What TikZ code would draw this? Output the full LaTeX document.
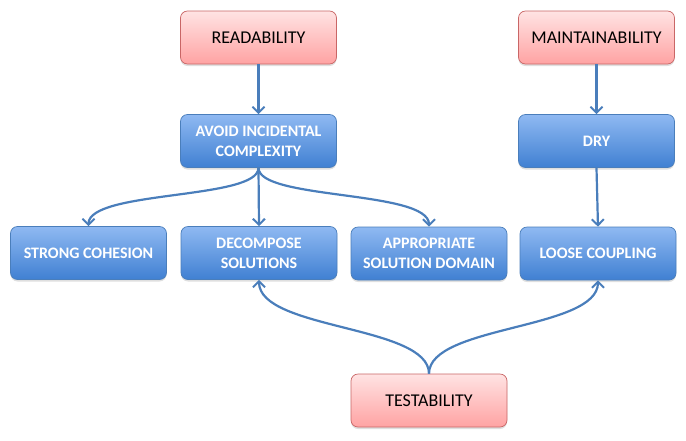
\documentclass[tikz,border=0pt]{standalone}
\usepackage{fontspec}
\setmainfont{Carlito}
\usetikzlibrary{arrows.meta,shadows}
\definecolor{pinkT}{HTML}{FFE3E3}
\definecolor{pinkB}{HTML}{FFA3A3}
\definecolor{pinkD}{HTML}{C96666}
\definecolor{blueT}{HTML}{8FB9F2}
\definecolor{blueB}{HTML}{4080D2}
\definecolor{blueD}{HTML}{4A7EBB}
\definecolor{lineC}{HTML}{4A7EBB}
\tikzset{
  basebox/.style={rounded corners=7pt, minimum width=156pt, minimum height=53pt, inner sep=0pt, align=center,
    drop shadow={opacity=0.25, shadow xshift=0pt, shadow yshift=-2pt}},
  pinkbox/.style={basebox, draw=pinkD, line width=0.7pt, top color=pinkT, bottom color=pinkB, font=\fontsize{18}{20}\selectfont, text=black},
  bluebox/.style={basebox, draw=blueD, line width=0.7pt, top color=blueT, bottom color=blueB, font=\bfseries\fontsize{16}{20}\selectfont, text=white},
  conn/.style={draw=lineC, line width=2.2pt, -{Straight Barb[length=6pt,width=12pt,line width=2pt]}}
}
\begin{document}
\begin{tikzpicture}[x=1pt,y=-1pt]
\useasboundingbox (0,0) rectangle (686,440);
\node[pinkbox] (read) at (258.5,37.5) {READABILITY};
\node[pinkbox] (maint) at (596.5,37.5) {MAINTAINABILITY};
\node[bluebox] (avoid) at (258.5,141) {AVOID INCIDENTAL\\COMPLEXITY};
\node[bluebox] (dry) at (596.5,141) {DRY};
\node[bluebox] (strong) at (88.5,253) {STRONG COHESION};
\node[bluebox] (decomp) at (259,253) {DECOMPOSE\\SOLUTIONS};
\node[bluebox] (approp) at (429,253.5) {APPROPRIATE\\SOLUTION DOMAIN};
\node[bluebox] (loose) at (598,253.5) {LOOSE COUPLING};
\node[pinkbox] (test) at (429,400.5) {TESTABILITY};

\draw[conn] (read.south) -- (avoid.north);
\draw[conn] (maint.south) -- (dry.north);
\draw[conn] (dry.south) -- (loose.north);
\draw[conn] (avoid.south) -- (decomp.north);
\draw[conn] (avoid.south) .. controls (258.5,200) and (88.5,190) .. (strong.north);
\draw[conn] (avoid.south) .. controls (258.5,200) and (429,190) .. (approp.north);
\draw[conn] (test.north) .. controls (429,325) and (259,330) .. (decomp.south);
\draw[conn] (test.north) .. controls (429,325) and (598,330) .. (loose.south);
\end{tikzpicture}
\end{document}
